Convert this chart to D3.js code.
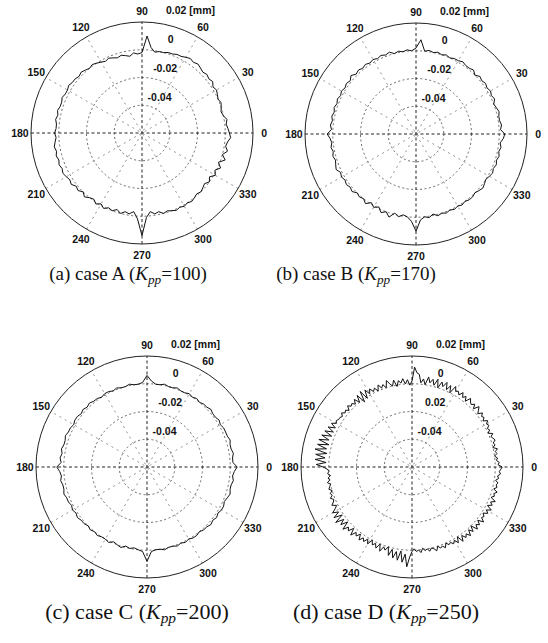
<!DOCTYPE html>
<html>
<head>
<meta charset="utf-8">
<style>
body { margin: 0; background: #fff; }
.tick { font-family: "Liberation Sans", Arial, sans-serif; font-size: 10.5px; font-weight: bold; fill: #111; }
.caption { font-family: "Liberation Serif", "Times New Roman", serif; fill: #111; }
</style>
</head>
<body>
<svg width="548" height="643"></svg>
<script src="https://cdn.jsdelivr.net/npm/d3@7"></script>
<script>

// roundness deviation, micrometres (A-C every 3 deg, D every 1.5 deg)
var caseA = [3,2,1,2,0,-1,0,1,0,1,
  2,1,3,2,3,2,3,4,3,4,
  3,2,2,1,1,0,0,-1,2,10,
  -2,-3,-2,-4,-3,-2,-3,-2,-1,-2,
  -1,0,1,0,1,2,1,2,2,3,
  2,2,3,2,2,3,2,3,2,2,
  3,2,3,4,3,4,3,4,3,4,
  3,2,3,1,2,0,2,0,-1,1,
  -1,1,-1,0,-2,0,-2,-1,-3,2,
  14,1,-3,-1,-2,0,-1,0,1,0,
  1,0,1,0,-1,0,-1,-2,0,-2,
  1,-1,2,-1,3,0,3,1,2,4];

var caseB = [4,1,2,1,1,2,1,0,2,1,
  2,1,2,1,2,0,2,1,1,2,
  1,1,0,1,0,1,0,1,0,8,
  2,0,1,0,1,0,2,1,2,1,
  2,1,2,1,2,1,3,1,2,1,
  2,1,2,1,2,1,2,1,2,1,
  4,2,1,2,1,2,1,2,3,1,
  2,1,2,1,2,0,1,0,2,-1,
  1,-1,2,0,3,-1,1,-1,0,3,
  10,2,0,1,-1,1,0,1,0,1,
  0,1,0,1,1,0,1,2,1,0,
  1,2,1,2,1,2,1,2,1,3];

var caseC = [5,2,2,3,2,2,3,2,2,2,
  1,2,1,1,2,1,1,0,1,0,
  1,0,0,1,0,0,1,0,0,2,
  6,1,0,0,1,0,0,1,0,1,
  1,0,1,1,2,1,2,1,2,2,
  1,2,2,3,2,2,3,2,3,2,
  5,3,2,3,2,2,3,2,2,1,
  2,1,2,1,1,0,1,0,1,0,
  0,1,-1,0,1,-1,0,-1,0,1,
  8,1,0,0,1,0,0,1,0,1,
  0,1,1,0,1,1,2,1,2,1,
  2,2,1,2,3,2,2,3,2,3];

var caseD = [5,2,3,1,2,0,2,1,3,0,2,1,3,2,1,3,0,2,1,3,
  2,4,1,3,2,4,1,3,5,1,4,2,3,5,1,4,2,5,2,4,
  3,6,0,5,1,6,2,5,0,6,1,5,2,6,0,4,1,7,8,12,
  2,-1,3,0,4,1,3,-1,4,0,2,5,0,3,1,4,0,3,1,4,
  1,5,-1,6,-2,5,0,4,1,3,2,4,1,3,2,4,2,3,3,4,
  3,6,2,7,2,8,2,9,3,10,2,10,3,11,2,10,3,10,2,9,
  4,1,0,1,-1,1,0,2,0,1,2,0,2,1,3,1,2,4,1,3,
  6,2,7,1,8,2,6,1,7,3,5,1,6,2,4,1,5,2,4,1,
  4,0,3,1,4,0,5,1,3,0,6,1,7,2,8,1,9,3,12,5,
  1,-1,1,0,2,-1,1,0,2,0,1,3,0,2,1,3,0,2,1,3,
  1,4,0,5,1,4,2,5,1,4,0,5,2,4,1,5,2,3,1,4,
  2,5,1,4,2,5,1,3,2,4,1,3,2,3,1,3,2,4,3,4];

var angleTicks = [0, 30, 60, 90, 120, 150, 180, 210, 240, 270, 300, 330];
var ringTicks = [-0.04, -0.02, 0, 0.02];
var ringLabels = ["-0.04", "-0.02", "0", "0.02"];
var ringLabelsD = ["-0.04", "0.02", "0", "0.02"];
var caseNames = ["A", "B", "C", "D"];
var kppValues = [100, 170, 200, 250];

var svg = d3.select("svg");
var R = 111;
var r = d3.scaleLinear().domain([-0.06, 0.02]).range([0, R]);

var panels = [
  {data: caseA, cx: 142, cy: 133, tag: "a", labels: ringLabels, capX: 128, capY: 280, capSize: 19},
  {data: caseB, cx: 416, cy: 134, tag: "b", labels: ringLabels, capX: 356, capY: 280, capSize: 19},
  {data: caseC, cx: 147, cy: 467, tag: "c", labels: ringLabels, capX: 137, capY: 619, capSize: 22},
  {data: caseD, cx: 412, cy: 467, tag: "d", labels: ringLabelsD, capX: 386, capY: 619, capSize: 22}
];

panels.forEach(function(p, k) {
  var g = svg.append("g").attr("transform", "translate(" + p.cx + "," + p.cy + ")");

  // dotted rings
  g.selectAll(".ring")
    .data(ringTicks.slice(0, 3))
    .enter().append("circle")
      .attr("r", function(d) { return r(d); })
      .attr("fill", "none")
      .attr("stroke", "#444")
      .attr("stroke-width", 0.8)
      .attr("stroke-dasharray", "2,2.5");

  // spokes
  g.selectAll(".spoke")
    .data(angleTicks.slice(0, 6))
    .enter().append("line")
      .attr("x1", function(d) { return -R * Math.cos(d * Math.PI / 180); })
      .attr("y1", function(d) { return R * Math.sin(d * Math.PI / 180); })
      .attr("x2", function(d) { return R * Math.cos(d * Math.PI / 180); })
      .attr("y2", function(d) { return -R * Math.sin(d * Math.PI / 180); })
      .attr("stroke", function(d) { return d % 90 === 0 ? "#222" : "#777"; })
      .attr("stroke-width", function(d) { return d % 90 === 0 ? 1 : 0.8; })
      .attr("stroke-dasharray", function(d) { return d % 90 === 0 ? "3,2.5" : "2,4"; });

  // outer circle
  g.append("circle")
    .attr("r", r(0.02))
    .attr("fill", "none")
    .attr("stroke", "#222")
    .attr("stroke-width", 1);

  // angle labels
  g.selectAll(".alab")
    .data(angleTicks)
    .enter().append("text")
      .attr("class", "tick")
      .attr("x", function(d) { return 1.1 * R * Math.cos(d * Math.PI / 180); })
      .attr("y", function(d) { return -1.1 * R * Math.sin(d * Math.PI / 180); })
      .attr("text-anchor", "middle")
      .attr("dominant-baseline", "central")
      .text(function(d) { return d; });

  // radial labels
  ringTicks.forEach(function(t, i) {
    var rs = r(t);
    var txt = g.append("text")
      .attr("class", "tick")
      .attr("y", -(rs * 1.05 + 2.5))
      .text(p.labels[i]);
    var w = txt.node().getComputedTextLength();
    txt.attr("x", 12 + rs * 0.2 - w / 2);
    if (i === ringTicks.length - 1) txt.append("tspan").text(" [mm]");
  });

  // profile
  var n = p.data.length;
  var line = d3.lineRadial()
    .angle(function(d, i) { return Math.PI / 2 - i * 2 * Math.PI / n; })
    .radius(function(d) { return r(d / 1000); })
    .curve(d3.curveLinearClosed);

  g.append("path")
    .datum(p.data)
    .attr("d", line)
    .attr("fill", "none")
    .attr("stroke", "#111")
    .attr("stroke-width", 1);

  // caption
  var cap = svg.append("text")
    .attr("class", "caption")
    .attr("x", p.capX)
    .attr("y", p.capY)
    .attr("text-anchor", "middle")
    .style("font-size", p.capSize + "px");
  cap.append("tspan").text("(" + p.tag + ") case " + caseNames[k] + " (");
  cap.append("tspan").style("font-style", "italic").text("K");
  cap.append("tspan").style("font-style", "italic").style("font-size", (p.capSize * 0.7) + "px").attr("dy", 4).text("pp");
  cap.append("tspan").attr("dy", -4).text("=" + kppValues[k] + ")");
});

</script>
</body>
</html>
